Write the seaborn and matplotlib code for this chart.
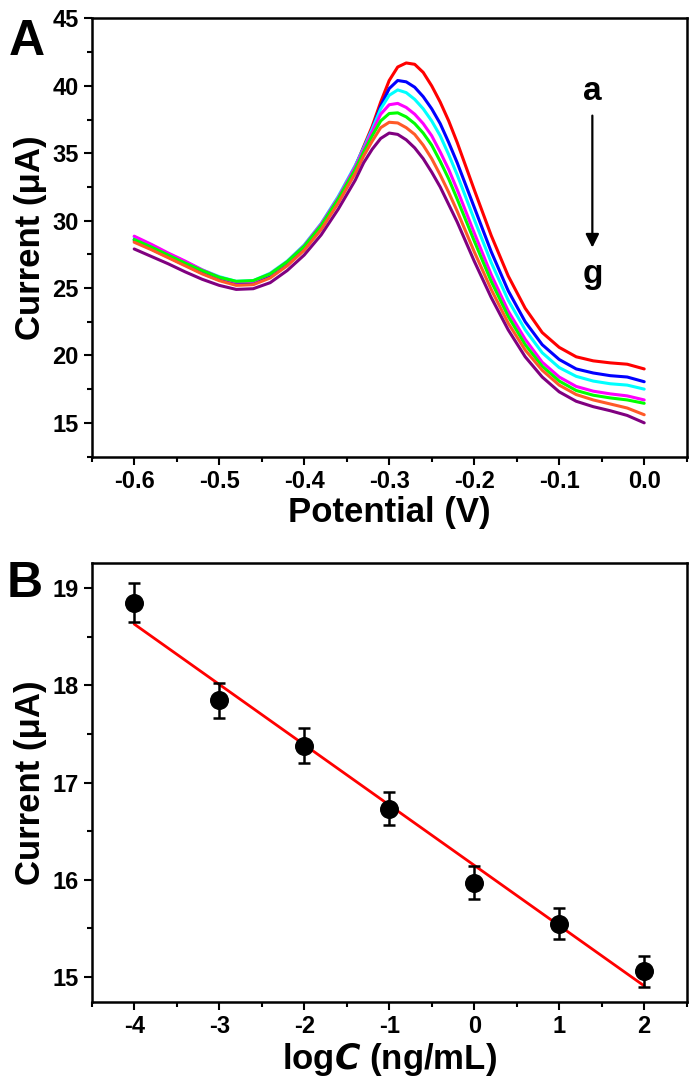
import numpy as np
import pandas as pd
import matplotlib
matplotlib.use("Agg")
import matplotlib.pyplot as plt
import seaborn as sns

# --------------------------
# Data: panel A (DPV curves a-g)
# --------------------------
potential = [-0.60, -0.58, -0.56, -0.54, -0.52, -0.50, -0.48, -0.46, -0.44, -0.42,
             -0.40, -0.38, -0.36, -0.34,
             -0.33, -0.32, -0.31, -0.30, -0.29, -0.28, -0.27, -0.26, -0.25, -0.24,
             -0.23, -0.22,
             -0.20, -0.18, -0.16, -0.14, -0.12, -0.10, -0.08, -0.06, -0.04, -0.02, 0.00]

curve_a = [28.5, 27.9, 27.3, 26.7, 26.1, 25.6, 25.3, 25.35, 25.9, 26.8, 28.0, 29.6, 31.6, 34.0,
           35.5, 37.0, 38.8, 40.4, 41.4, 41.7, 41.6, 41.0, 40.0, 38.8, 37.4, 35.8,
           32.3, 28.9, 25.9, 23.5, 21.7, 20.6, 19.9, 19.6, 19.45, 19.35, 19.0]
curve_b = [28.6, 28.0, 27.4, 26.8, 26.2, 25.7, 25.35, 25.4, 25.95, 26.85, 28.05, 29.65, 31.65, 34.0,
           35.4, 36.8, 38.5, 39.8, 40.4, 40.3, 39.9, 39.2, 38.3, 37.2, 35.8, 34.3,
           31.0, 27.7, 24.8, 22.5, 20.8, 19.7, 19.0, 18.7, 18.5, 18.4, 18.05]
curve_c = [28.8, 28.2, 27.55, 26.95, 26.35, 25.85, 25.5, 25.55, 26.1, 27.0, 28.2, 29.8, 31.8, 34.1,
           35.4, 36.8, 38.3, 39.3, 39.7, 39.5, 39.0, 38.3, 37.4, 36.3, 34.9, 33.4,
           30.1, 26.9, 24.1, 21.9, 20.2, 19.1, 18.45, 18.1, 17.9, 17.8, 17.5]
curve_d = [28.85, 28.25, 27.6, 27.0, 26.35, 25.8, 25.45, 25.5, 26.05, 26.95, 28.15, 29.75, 31.7, 34.0,
           35.3, 36.6, 37.9, 38.6, 38.7, 38.4, 37.9, 37.2, 36.3, 35.1, 33.8, 32.3,
           29.1, 26.0, 23.3, 21.2, 19.5, 18.4, 17.7, 17.35, 17.15, 17.0, 16.7]
curve_e = [28.6, 28.05, 27.45, 26.85, 26.3, 25.8, 25.5, 25.55, 26.05, 26.95, 28.1, 29.65, 31.6, 33.8,
           35.1, 36.3, 37.4, 37.95, 38.0, 37.7, 37.2, 36.5, 35.6, 34.4, 33.1, 31.6,
           28.5, 25.5, 22.9, 20.8, 19.2, 18.1, 17.4, 17.05, 16.85, 16.7, 16.45]
curve_f = [28.4, 27.85, 27.25, 26.65, 26.05, 25.55, 25.2, 25.25, 25.75, 26.65, 27.8, 29.35, 31.3, 33.5,
           34.8, 35.9, 36.9, 37.3, 37.25, 36.9, 36.4, 35.6, 34.6, 33.4, 32.1, 30.7,
           27.7, 24.9, 22.4, 20.4, 18.9, 17.8, 17.1, 16.7, 16.4, 16.1, 15.6]
curve_g = [27.9, 27.35, 26.8, 26.2, 25.65, 25.2, 24.9, 24.95, 25.4, 26.3, 27.45, 28.95, 30.85, 33.0,
           34.3, 35.3, 36.1, 36.5, 36.4, 36.0, 35.4, 34.6, 33.6, 32.5, 31.2, 29.9,
           27.0, 24.3, 21.9, 19.9, 18.4, 17.3, 16.6, 16.2, 15.9, 15.55, 15.0]

curve_names = ["a", "b", "c", "d", "e", "f", "g"]
curve_colors = ["#ff0000", "#0000ff", "#00ffff", "#ff00ff", "#00ff00", "#ff5a28", "#800080"]

# --------------------------
# Data: panel B (calibration)
# --------------------------
log_conc = [-4, -3, -2, -1, 0, 1, 2]
current_b = [18.85, 17.85, 17.38, 16.73, 15.97, 15.55, 15.06]
error_b = [0.20, 0.18, 0.18, 0.17, 0.17, 0.16, 0.16]

# --------------------------
# Style
# --------------------------
sns.set_theme(style="ticks")
plt.rcParams["font.family"] = ["Liberation Sans", "DejaVu Sans"]
plt.rcParams["font.weight"] = "bold"
plt.rcParams["axes.labelweight"] = "bold"
plt.rcParams["axes.unicode_minus"] = False
for key in ["text.color", "axes.labelcolor", "xtick.color", "ytick.color", "axes.edgecolor"]:
    plt.rcParams[key] = "black"
plt.rcParams["axes.linewidth"] = 1.8
plt.rcParams["xtick.major.width"] = 1.5
plt.rcParams["ytick.major.width"] = 1.5
plt.rcParams["xtick.minor.width"] = 1.5
plt.rcParams["ytick.minor.width"] = 1.5
plt.rcParams["xtick.major.size"] = 6
plt.rcParams["ytick.major.size"] = 6
plt.rcParams["xtick.minor.size"] = 3.5
plt.rcParams["ytick.minor.size"] = 3.5
plt.rcParams["xtick.labelsize"] = 17
plt.rcParams["ytick.labelsize"] = 17
plt.rcParams["axes.labelsize"] = 25

fig = plt.figure(figsize=(7, 10.87), dpi=100)
axA = fig.add_axes([0.131, 0.580, 0.850, 0.403])
axB = fig.add_axes([0.131, 0.078, 0.850, 0.404])

# --------------------------
# Panel A
# --------------------------
curves = [curve_a, curve_b, curve_c, curve_d, curve_e, curve_f, curve_g]
df = pd.concat(
    [pd.DataFrame({"Potential": potential, "Current": c, "curve": n})
     for n, c in zip(curve_names, curves)]
)
sns.lineplot(data=df, x="Potential", y="Current", hue="curve",
             palette=dict(zip(curve_names, curve_colors)),
             linewidth=2.2, legend=False, ax=axA)

axA.set_xlim(-0.65, 0.05)
axA.set_ylim(12.5, 45)
axA.set_xticks([-0.6, -0.5, -0.4, -0.3, -0.2, -0.1, 0.0])
axA.set_xticklabels(["-0.6", "-0.5", "-0.4", "-0.3", "-0.2", "-0.1", "0.0"])
axA.set_xticks(np.arange(-0.65, 0.051, 0.05), minor=True)
axA.set_yticks([15, 20, 25, 30, 35, 40, 45])
axA.set_yticks(np.arange(12.5, 45.1, 2.5), minor=True)
axA.set_xlabel("Potential (V)", labelpad=2)
axA.set_ylabel("Current (\u03bcA)", labelpad=4)

axA.annotate("", xy=(-0.061, 27.8), xytext=(-0.061, 38.0),
             arrowprops=dict(arrowstyle="-|>", color="black", lw=1.6,
                             mutation_scale=20))
axA.text(-0.061, 39.6, "a", ha="center", va="center", fontsize=24, fontweight="bold")
axA.text(-0.061, 26.0, "g", ha="center", va="center", fontsize=24, fontweight="bold")
fig.text(0.013, 0.961, "A", fontsize=36, fontweight="bold", va="center")

# --------------------------
# Panel B
# --------------------------
slope, intercept = np.polyfit(log_conc, current_b, 1)
fit_x = np.array([log_conc[0], log_conc[-1]])
sns.lineplot(x=fit_x, y=slope * fit_x + intercept, color="#ff0000",
             linewidth=2.0, ax=axB)
axB.errorbar(log_conc, current_b, yerr=error_b, fmt="none", ecolor="black",
             elinewidth=1.8, capsize=4, capthick=1.8, zorder=3)
sns.scatterplot(x=log_conc, y=current_b, color="black", s=160, marker="o",
                edgecolor="black", zorder=4, ax=axB)

axB.set_xlim(-4.5, 2.5)
axB.set_ylim(14.74, 19.26)
axB.set_xticks(log_conc)
axB.set_xticks(np.arange(-4.5, 2.51, 0.5), minor=True)
axB.set_yticks([15, 16, 17, 18, 19])
axB.set_yticks(np.arange(15, 19.01, 0.5), minor=True)
axB.set_xlabel("log$\\bfit{C}$ (ng/mL)", labelpad=2)
axB.set_ylabel("Current (\u03bcA)", labelpad=4)
fig.text(0.010, 0.463, "B", fontsize=36, fontweight="bold", va="center")

for ax in (axA, axB):
    for s in ax.spines.values():
        s.set_visible(True)
    ax.tick_params(which="both", direction="out", top=False, right=False)

plt.savefig("out.png", dpi=100)
